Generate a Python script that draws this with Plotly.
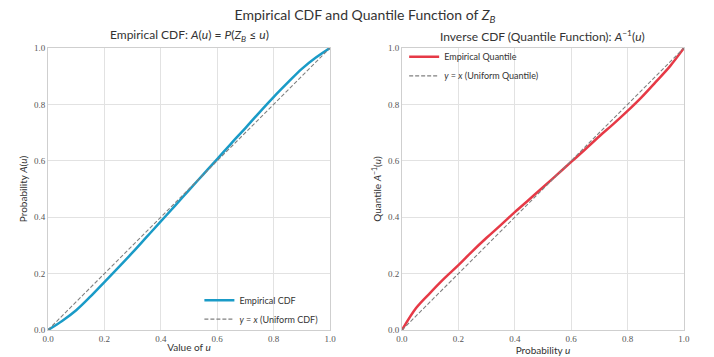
import plotly.graph_objects as go
from plotly.subplots import make_subplots

# values, on a 0.05 grid
u_grid = [0.0, 0.05, 0.1, 0.15, 0.2, 0.25, 0.3, 0.35, 0.4, 0.45, 0.5,
          0.55, 0.6, 0.65, 0.7, 0.75, 0.8, 0.85, 0.9, 0.95, 1.0]
cdf_values = [0.0, 0.032, 0.070, 0.118, 0.170, 0.222, 0.275, 0.330, 0.385, 0.440, 0.496,
              0.551, 0.606, 0.662, 0.716, 0.772, 0.826, 0.877, 0.926, 0.966, 1.0]
quantile_values = [0.0, 0.078, 0.132, 0.183, 0.230, 0.280, 0.327, 0.372, 0.418, 0.462, 0.506,
                   0.551, 0.596, 0.641, 0.687, 0.731, 0.777, 0.826, 0.880, 0.935, 1.0]
diag = [0.0, 1.0]

BLUE = "#1a9bc7"
RED = "#e63946"
SANS = "Lato, 'Open Sans', sans-serif"
SERIF = "'Liberation Serif', 'DejaVu Serif', serif"

fig = make_subplots(rows=1, cols=2, horizontal_spacing=0.1132)

fig.add_trace(
    go.Scatter(x=u_grid, y=cdf_values, mode="lines", name="Empirical CDF",
               line=dict(color=BLUE, width=2.5, shape="spline"), legend="legend"),
    row=1, col=1,
)
fig.add_trace(
    go.Scatter(x=diag, y=diag, mode="lines",
               name="<i>y</i> = <i>x</i> (Uniform CDF)",
               line=dict(color="#808080", width=1.1, dash="4px,2px"), legend="legend"),
    row=1, col=1,
)
fig.add_trace(
    go.Scatter(x=u_grid, y=quantile_values, mode="lines", name="Empirical Quantile",
               line=dict(color=RED, width=2.5, shape="spline"), legend="legend2"),
    row=1, col=2,
)
fig.add_trace(
    go.Scatter(x=diag, y=diag, mode="lines",
               name="<i>y</i> = <i>x</i> (Uniform Quantile)",
               line=dict(color="#808080", width=1.1, dash="4px,2px"), legend="legend2"),
    row=1, col=2,
)

axis_style = dict(
    range=[0, 1],
    dtick=0.2,
    tickformat=".1f",
    showgrid=True,
    gridcolor="#e2e2e2",
    gridwidth=1,
    zeroline=False,
    showline=True,
    linecolor="#cfcfcf",
    linewidth=1,
    mirror=True,
    ticks="",
    ticklabelstandoff=0,
    automargin=False,
    tickfont=dict(family=SERIF, size=9, color="#555555"),
    title_font=dict(family=SANS, size=10, color="#333333"),
)
fig.update_xaxes(**axis_style, title_standoff=1)
fig.update_yaxes(**axis_style, title_standoff=4)

fig.update_xaxes(title_text="Value of <i>u</i>", row=1, col=1)
fig.update_yaxes(title_text="Probability <i>A</i>(<i>u</i>)", row=1, col=1)
fig.update_xaxes(title_text="Probability <i>u</i>", row=1, col=2)
fig.update_yaxes(title_text="Quantile <i>A</i><sup>−1</sup>(<i>u</i>)", row=1, col=2)

fig.update_layout(
    width=714,
    height=357,
    plot_bgcolor="white",
    paper_bgcolor="white",
    margin=dict(l=40, r=38, t=40, b=35, autoexpand=False),
    title=dict(
        text="Empirical CDF and Quantile Function of <i>Z</i><sub><i>B</i></sub>",
        x=0.5, xanchor="center", y=1.0, yanchor="top", pad=dict(t=2),
        font=dict(family=SANS, size=14, color="#333333"),
    ),
    legend=dict(
        x=0.433, y=-0.013, xanchor="right", yanchor="bottom",
        bgcolor="rgba(255,255,255,0)",
        font=dict(family=SANS, size=9, color="#333333"),
        tracegroupgap=0,
    ),
    legend2=dict(
        x=0.56, y=1.02, xanchor="left", yanchor="top",
        bgcolor="rgba(255,255,255,0)",
        font=dict(family=SANS, size=9, color="#333333"),
        tracegroupgap=0,
    ),
    annotations=[
        dict(text="Empirical CDF: <i>A</i>(<i>u</i>) = <i>P</i>(<i>Z</i><sub><i>B</i></sub> ≤ <i>u</i>)",
             xref="paper", yref="paper", x=0.2217, y=1.0, xanchor="center",
             yanchor="bottom", yshift=2,
             showarrow=False, font=dict(family=SANS, size=12, color="#333333")),
        dict(text="Inverse CDF (Quantile Function): <i>A</i><sup>−1</sup>(<i>u</i>)",
             xref="paper", yref="paper", x=0.7783, y=1.0, xanchor="center",
             yanchor="bottom", yshift=2,
             showarrow=False, font=dict(family=SANS, size=12, color="#333333")),
    ],
)

fig.write_html("out.html")
